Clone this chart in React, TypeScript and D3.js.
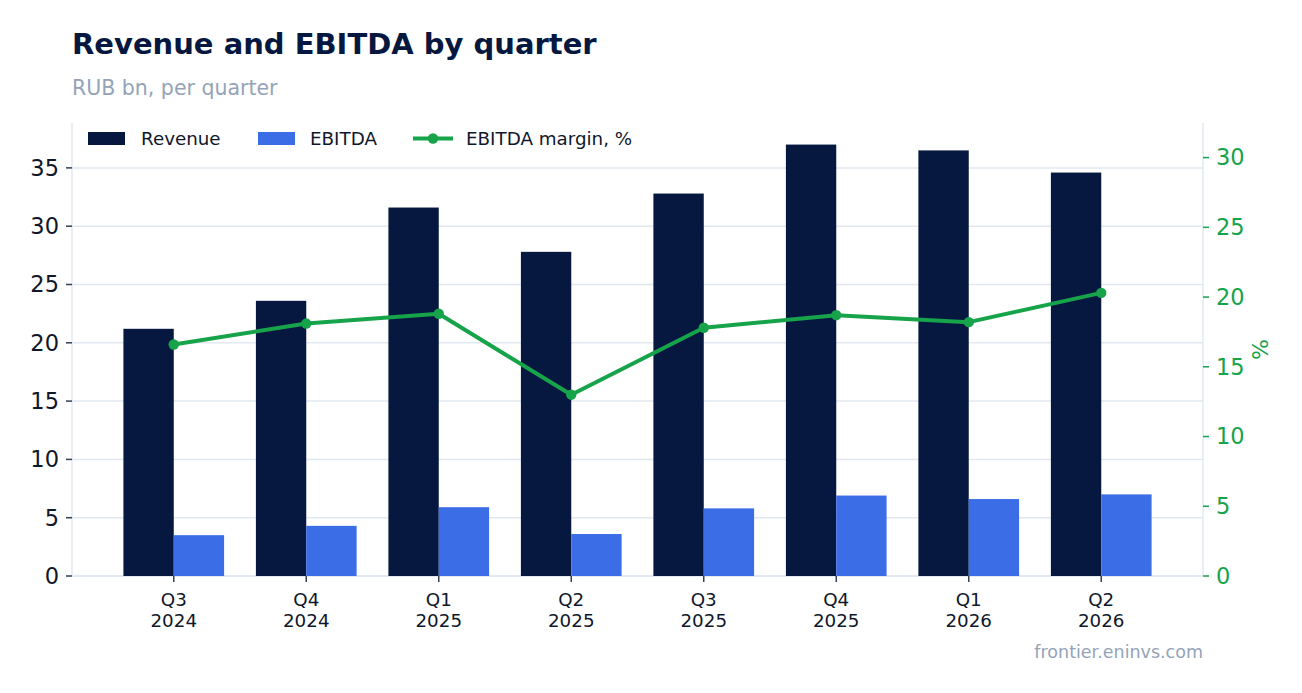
import { useMemo } from "react";
import * as d3 from "d3";

const width = 1302;
const height = 693;
const margin = { top: 123, right: 99, bottom: 117, left: 72 };

// quarters on the x axis (two-line labels)
const quarters = ["Q3", "Q4", "Q1", "Q2", "Q3", "Q4", "Q1", "Q2"];
const years = ["2024", "2024", "2025", "2025", "2025", "2025", "2026", "2026"];

// RUB bn
const revenue = [21.2, 23.6, 31.6, 27.8, 32.8, 37.0, 36.5, 34.6];
const ebitda = [3.5, 4.3, 5.9, 3.6, 5.8, 6.9, 6.6, 7.0];
// %
const ebitdaMargin = [16.6, 18.1, 18.8, 13.0, 17.8, 18.7, 18.2, 20.3];

const leftTicks = [0, 5, 10, 15, 20, 25, 30, 35];
const rightTicks = [0, 5, 10, 15, 20, 25, 30];

const colors = {
  revenue: "#061740",
  ebitda: "#3b6de7",
  margin: "#16a34a",
  grid: "#e2e8f0",
  text: "#0f172a",
  muted: "#94a3b8",
  tick: "#334155",
};

const font = "'DejaVu Sans', sans-serif";

export default function App() {
  const plotRight = width - margin.right;
  const plotBottom = height - margin.bottom;

  const { x, yLeft, yRight, barW } = useMemo(() => {
    const n = quarters.length;
    const barW = 0.38;
    const pad = (n - 1 + 2 * barW) * 0.05;
    const x = d3
      .scaleLinear()
      .domain([-barW - pad, n - 1 + barW + pad])
      .range([margin.left, plotRight]);
    const yLeft = d3
      .scaleLinear()
      .domain([0, (d3.max(revenue) ?? 0) * 1.05])
      .range([plotBottom, margin.top]);
    const yRight = d3
      .scaleLinear()
      .domain([0, (d3.max(ebitdaMargin) ?? 0) * 1.6])
      .range([plotBottom, margin.top]);
    return { x, yLeft, yRight, barW };
  }, [plotRight, plotBottom]);

  const bw = x(barW) - x(0);

  const line = d3
    .line<number>()
    .x((_, i) => x(i))
    .y((d) => yRight(d));

  return (
    <svg
      width={width}
      height={height}
      viewBox={`0 0 ${width} ${height}`}
      style={{ position: "absolute", left: 0, top: 0, fontFamily: font }}
    >
      <rect width={width} height={height} fill="#ffffff" />

      {/* title */}
      <text x={72} y={54} fontSize={29} fontWeight={700} fill={colors.revenue}>
        Revenue and EBITDA by quarter
      </text>
      <text x={72} y={95} fontSize={20.5} fill={colors.muted}>
        RUB bn, per quarter
      </text>

      {/* grid */}
      <g>
        {leftTicks.map((t) => (
          <line
            key={t}
            x1={margin.left}
            x2={plotRight}
            y1={yLeft(t)}
            y2={yLeft(t)}
            stroke={colors.grid}
            strokeWidth={1.5}
          />
        ))}
      </g>

      {/* spines */}
      <line x1={margin.left} x2={margin.left} y1={margin.top} y2={plotBottom} stroke={colors.grid} strokeWidth={1.5} />
      <line x1={plotRight} x2={plotRight} y1={margin.top} y2={plotBottom} stroke={colors.grid} strokeWidth={1.5} />
      <line x1={margin.left} x2={plotRight} y1={plotBottom} y2={plotBottom} stroke={colors.grid} strokeWidth={1.5} />

      {/* bars */}
      <g>
        {revenue.map((v, i) => (
          <rect
            key={`r${i}`}
            x={x(i - barW)}
            y={yLeft(v)}
            width={bw}
            height={plotBottom - yLeft(v)}
            fill={colors.revenue}
          />
        ))}
        {ebitda.map((v, i) => (
          <rect
            key={`e${i}`}
            x={x(i)}
            y={yLeft(v)}
            width={bw}
            height={plotBottom - yLeft(v)}
            fill={colors.ebitda}
          />
        ))}
      </g>

      {/* margin line */}
      <path
        d={line(ebitdaMargin) ?? ""}
        fill="none"
        stroke={colors.margin}
        strokeWidth={4}
        strokeLinejoin="round"
      />
      {ebitdaMargin.map((v, i) => (
        <circle key={i} cx={x(i)} cy={yRight(v)} r={5.2} fill={colors.margin} />
      ))}

      {/* left axis */}
      <g>
        {leftTicks.map((t) => (
          <g key={t} transform={`translate(${margin.left},${yLeft(t)})`}>
            <line x1={-6} x2={0} stroke={colors.tick} strokeWidth={1.5} />
            <text x={-13} dy="0.35em" textAnchor="end" fontSize={22.5} fill={colors.text}>
              {t}
            </text>
          </g>
        ))}
      </g>

      {/* right axis */}
      <g>
        {rightTicks.map((t) => (
          <g key={t} transform={`translate(${plotRight},${yRight(t)})`}>
            <line x1={0} x2={6} stroke={colors.margin} strokeWidth={1.5} />
            <text x={13} dy="0.35em" textAnchor="start" fontSize={22.5} fill={colors.margin}>
              {t}
            </text>
          </g>
        ))}
        <text
          transform={`translate(1268,${(margin.top + plotBottom) / 2}) rotate(-90)`}
          textAnchor="middle"
          fontSize={22}
          fill={colors.margin}
        >
          %
        </text>
      </g>

      {/* x axis */}
      <g>
        {quarters.map((q, i) => (
          <g key={i} transform={`translate(${x(i)},${plotBottom})`}>
            <line y1={0} y2={6} stroke={colors.tick} strokeWidth={1.5} />
            <text y={30} textAnchor="middle" fontSize={18.3} fill={colors.text}>
              {q}
            </text>
            <text y={51} textAnchor="middle" fontSize={18.3} fill={colors.text}>
              {years[i]}
            </text>
          </g>
        ))}
      </g>

      {/* legend */}
      <g fontSize={18.3} fill={colors.text}>
        <rect x={88} y={132} width={37} height={13} fill={colors.revenue} />
        <text x={141} y={145}>Revenue</text>
        <rect x={258} y={132} width={37} height={13} fill={colors.ebitda} />
        <text x={310} y={145}>EBITDA</text>
        <line x1={413} x2={453} y1={138.5} y2={138.5} stroke={colors.margin} strokeWidth={4} />
        <circle cx={433} cy={138.5} r={5.2} fill={colors.margin} />
        <text x={466} y={145}>EBITDA margin, %</text>
      </g>

      {/* source */}
      <text x={plotRight} y={658} textAnchor="end" fontSize={17.5} fill={colors.muted}>
        frontier.eninvs.com
      </text>
    </svg>
  );
}
